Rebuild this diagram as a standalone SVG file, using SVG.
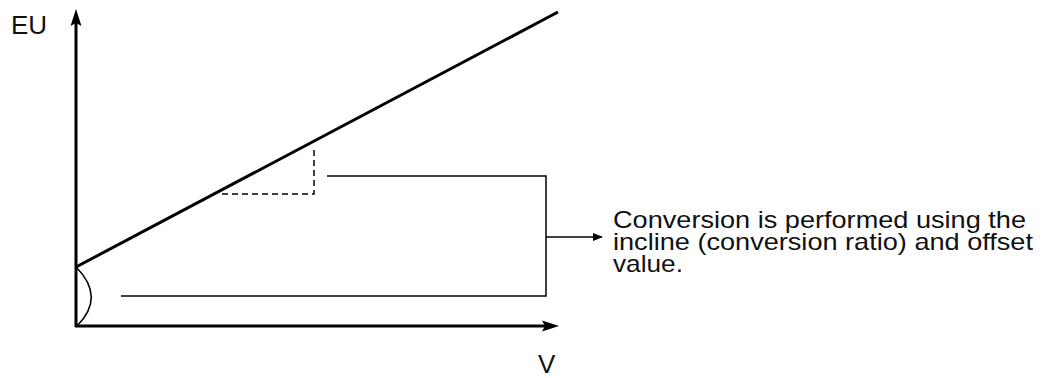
<svg xmlns="http://www.w3.org/2000/svg" width="1046" height="378" viewBox="0 0 1046 378">
<style>
.t{font-family:"Liberation Sans",Arial,sans-serif;font-size:26px;fill:#111}
.b{font-family:"Liberation Sans",Arial,sans-serif;font-size:24px;fill:#111}
.ax{stroke:#000;stroke-width:3;fill:none}
.th{stroke:#000;stroke-width:1.5;fill:none}
</style>
<defs>
<marker id="ah" markerWidth="10" markerHeight="8" refX="9" refY="4" orient="auto" markerUnits="userSpaceOnUse"><path d="M0,0 L10,4 L0,8 Z" fill="#000"/></marker>
</defs>
<rect width="1046" height="378" fill="#fff"/>
<g id="axes">
<line class="ax" x1="76" y1="327" x2="76" y2="22"/>
<path d="M76,9 L70.5,26 L76,23 L81.5,26 Z" fill="#000"/>
<line class="ax" x1="75" y1="326" x2="545" y2="326"/>
<path d="M559,326 L542,320.5 L545,326 L542,331.5 Z" fill="#000"/>
</g>
<g id="graph">
<line class="ax" x1="76" y1="267" x2="558" y2="12"/>
<path class="th" d="M76,267 Q106,297 77,326"/>
<path class="th" d="M222,194 L314,194 L314,149" stroke-dasharray="6,4"/>
</g>
<g id="connectors">
<path class="th" d="M327,176 L546,176 L546,296 L121,296"/>
<line class="th" x1="546" y1="237" x2="602" y2="237" marker-end="url(#ah)"/>
</g>
<g id="labels">
<text class="t" x="11" y="34">EU</text>
<text class="t" x="538" y="373">V</text>
<text class="b" x="613" y="228" textLength="413" lengthAdjust="spacingAndGlyphs">Conversion is performed using the</text>
<text class="b" x="613" y="250" textLength="420" lengthAdjust="spacingAndGlyphs">incline (conversion ratio) and offset</text>
<text class="b" x="613" y="272" textLength="70" lengthAdjust="spacingAndGlyphs">value.</text>
</g>
</svg>
